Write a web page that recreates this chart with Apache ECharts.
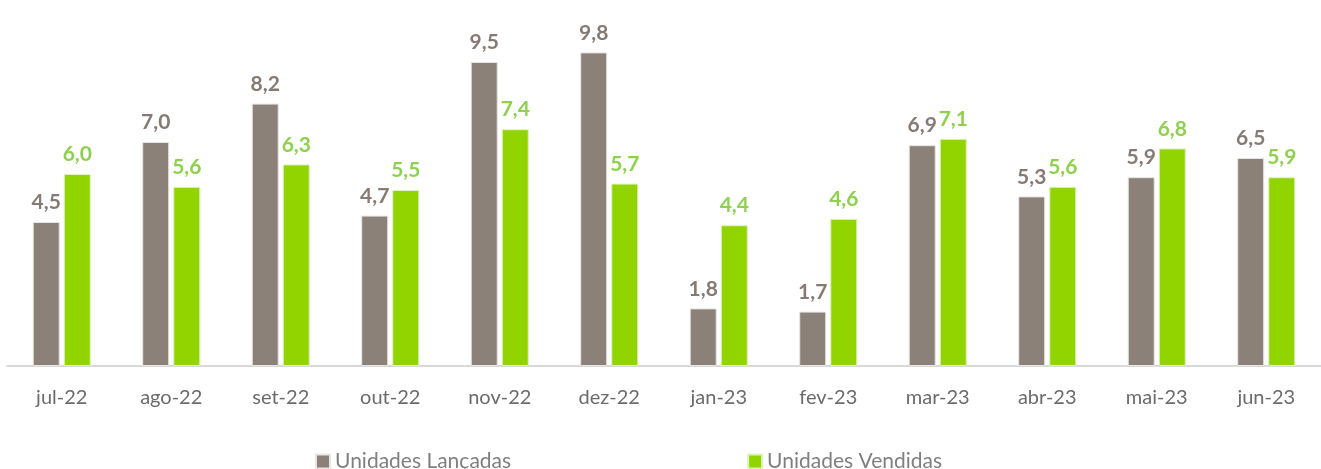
<!DOCTYPE html>
<html>
<head>
<meta charset="utf-8">
<script src="https://cdn.jsdelivr.net/npm/echarts@6/dist/echarts.min.js"></script>
<style>
html,body{margin:0;padding:0;background:#fff;}
#chart{width:1321px;height:469px;}
</style>
</head>
<body>
<div id="chart"></div>
<script>
var meses = ['jul-22','ago-22','set-22','out-22','nov-22','dez-22','jan-23','fev-23','mar-23','abr-23','mai-23','jun-23'];
var lancadas = [4.5, 7.0, 8.2, 4.7, 9.5, 9.8, 1.8, 1.7, 6.9, 5.3, 5.9, 6.5];
var vendidas = [6.0, 5.6, 6.3, 5.5, 7.4, 5.7, 4.4, 4.6, 7.1, 5.6, 6.8, 5.9];

var fonte = 'Lato, "Open Sans", sans-serif';
function fmt(p){ return p.value.toFixed(1).replace('.', ','); }

var myChart = echarts.init(document.getElementById('chart'));
myChart.setOption({
    animation: false,
    textStyle: { fontFamily: fonte },
    legend: {
        top: 446,
        left: 310,
        itemGap: 236,
        itemWidth: 14,
        itemHeight: 14,
        icon: 'rect',
        textStyle: { fontSize: 21, color: '#7f7f7f', fontFamily: fonte },
        data: ['Unidades Lançadas', 'Unidades Vendidas']
    },
    grid: { left: 7, right: -3, top: 46, height: 320 },
    xAxis: {
        type: 'category',
        data: meses,
        axisLine: { lineStyle: { color: '#d9d9d9', width: 2 } },
        axisTick: { show: false },
        axisLabel: { fontSize: 20, color: '#6b6b6b', margin: 22, fontFamily: fonte }
    },
    yAxis: {
        type: 'value',
        min: 0,
        max: 10,
        show: false
    },
    series: [
        {
            name: 'Unidades Lançadas',
            type: 'bar',
            data: lancadas,
            barWidth: 27,
            barGap: '15%',
            itemStyle: { color: '#8b8178', borderColor: '#e8e6e4', borderWidth: 1 },
            label: { show: true, position: 'top', distance: 9, formatter: fmt,
                fontSize: 21, fontWeight: 'bold', color: '#857b74', fontFamily: fonte }
        },
        {
            name: 'Unidades Vendidas',
            type: 'bar',
            data: vendidas,
            barWidth: 27,
            itemStyle: { color: '#92d400', borderColor: '#dff3c0', borderWidth: 1 },
            label: { show: true, position: 'top', distance: 9, formatter: fmt,
                fontSize: 21, fontWeight: 'bold', color: '#8fd14f', fontFamily: fonte }
        }
    ]
});
</script>
</body>
</html>
